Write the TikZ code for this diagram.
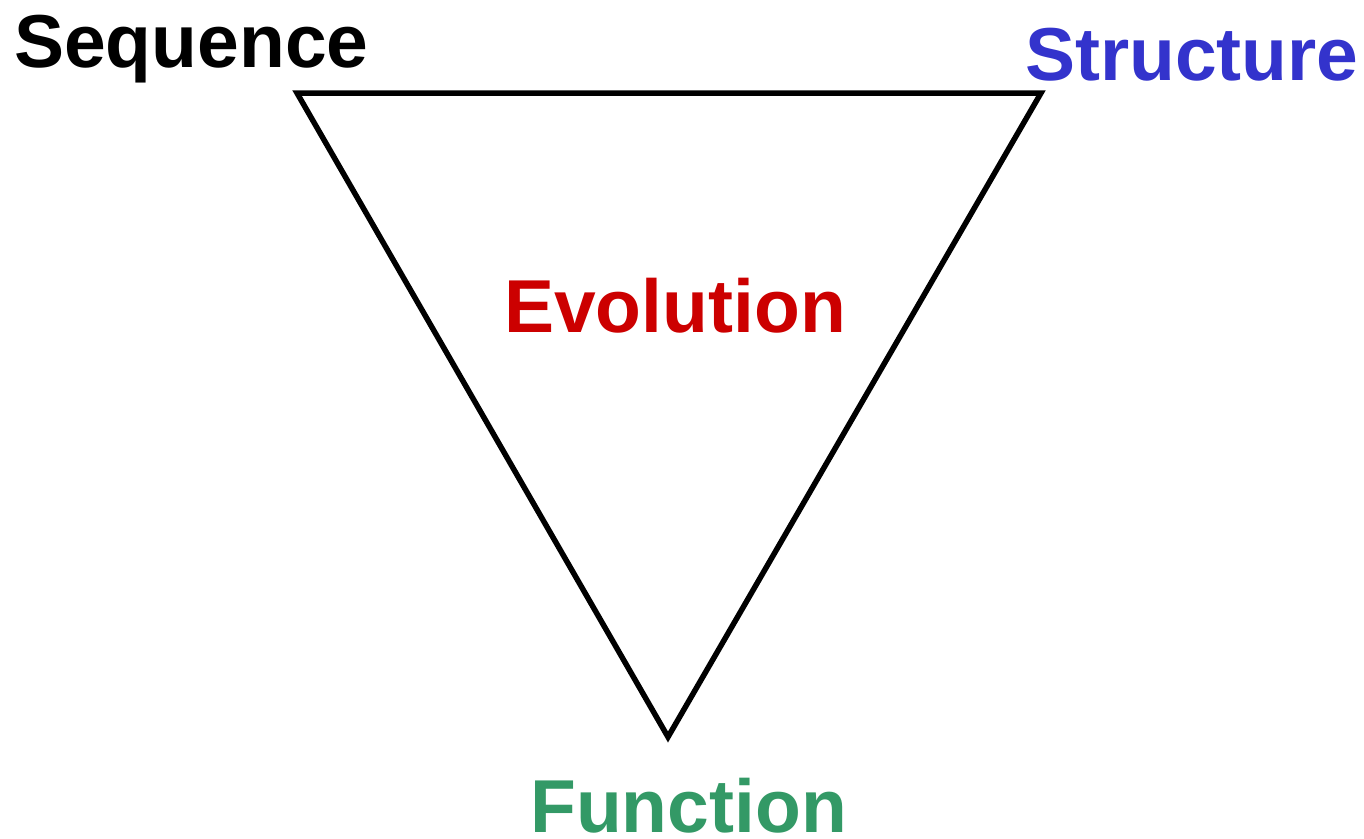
\documentclass[tikz,border=0pt]{standalone}
\usepackage{fontspec}
\setmainfont{Liberation Sans}
\definecolor{seqc}{HTML}{000000}
\definecolor{strc}{HTML}{3333CC}
\definecolor{evoc}{HTML}{CC0000}
\definecolor{func}{HTML}{339966}
\tikzset{
  lbl/.style={anchor=base west, inner sep=0pt, font=\fontsize{75}{80}\selectfont\bfseries},
  tri/.style={draw=black, line width=5.5pt, line join=miter}
}
\begin{document}
\begin{tikzpicture}[x=1pt,y=-1pt]
\useasboundingbox (0,0) rectangle (1364,838);
\coordinate (A) at (297,93);
\coordinate (B) at (1041,93);
\coordinate (C) at (668,737);
\draw[tri] (A) -- (B) -- (C) -- cycle;
\node[lbl, text=seqc] (seq) at (14,67) {Sequence};
\node[lbl, text=strc] (str) at (1025,80) {Structure};
\node[lbl, text=evoc] (evo) at (504,332) {Evolution};
\node[lbl, text=func] (fun) at (530,832) {Function};
\end{tikzpicture}
\end{document}
